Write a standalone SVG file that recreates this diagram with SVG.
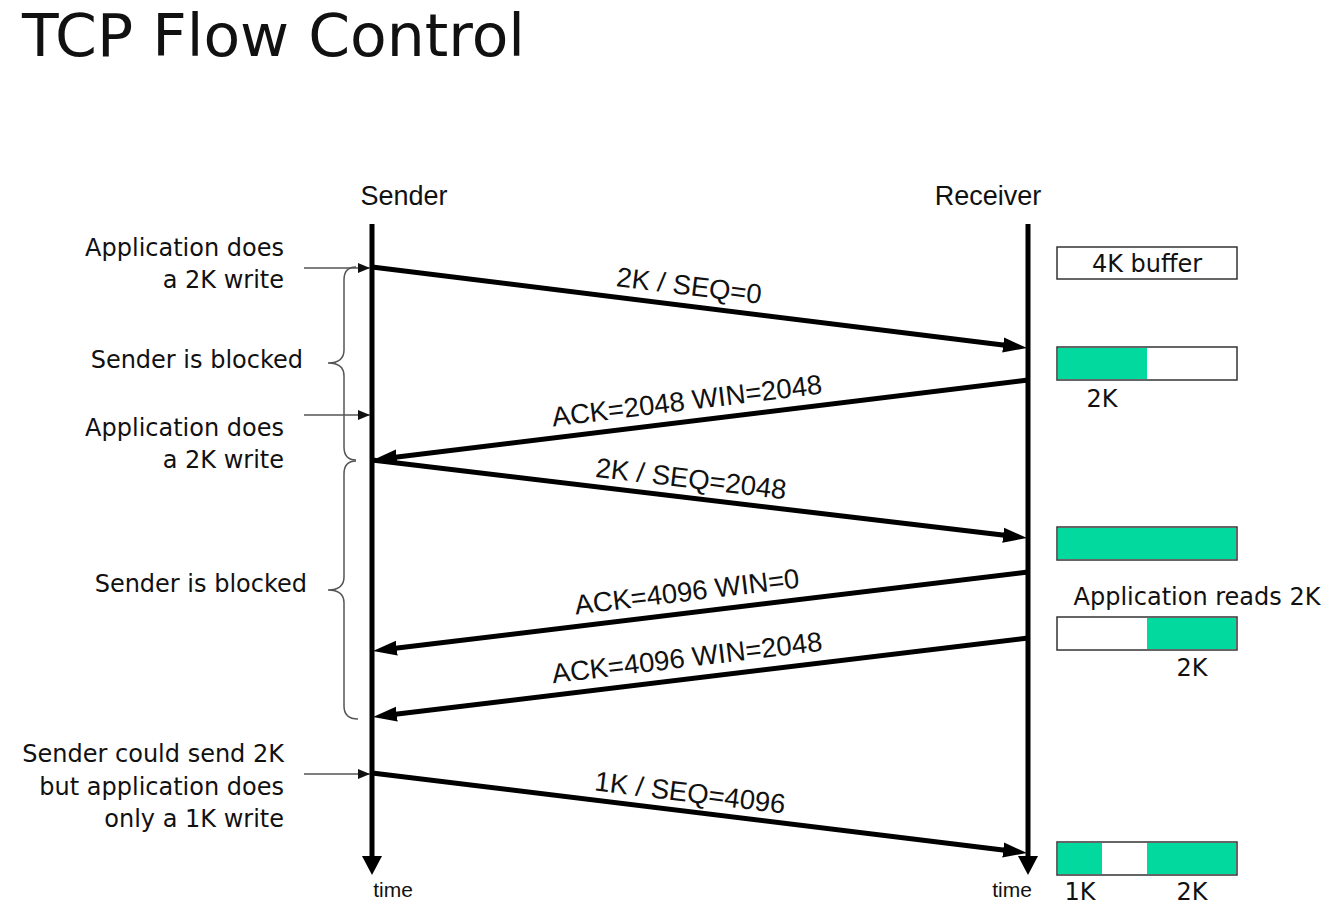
<svg xmlns="http://www.w3.org/2000/svg" width="1324" height="905" viewBox="0 0 1324 905">
<defs>
<style>
.title{font-family:"DejaVu Sans",sans-serif;font-size:59px;fill:#111}
.hdr{font-family:"Liberation Sans",Arial,sans-serif;font-size:27px;fill:#111}
.lbl{font-family:"Liberation Sans",Arial,sans-serif;font-size:27.5px;fill:#111;text-anchor:middle}
.note{font-family:"DejaVu Sans",sans-serif;font-size:24px;fill:#111;text-anchor:end}
.buf{font-family:"DejaVu Sans",sans-serif;font-size:24px;fill:#111;text-anchor:middle}
.time{font-family:"Liberation Sans",Arial,sans-serif;font-size:21px;fill:#111;text-anchor:middle}
.life{stroke:#000;stroke-width:5;fill:none}
.msg{stroke:#000;stroke-width:5;fill:none;marker-end:url(#ah)}
.ptr{stroke:#555;stroke-width:1.5;fill:none;marker-end:url(#sh)}
.brace{stroke:#555;stroke-width:1.5;fill:none}
.box{stroke:#333;stroke-width:1.5;fill:#fff}
.g{fill:#02d99e}
</style>
<marker id="ah" markerUnits="userSpaceOnUse" markerWidth="24" markerHeight="18" viewBox="0 0 24 18" refX="12" refY="9" orient="auto">
<path d="M0,1.5 L24,9 L0,16.5 z" fill="#000"/>
</marker>
<marker id="sh" markerUnits="userSpaceOnUse" markerWidth="12" markerHeight="10" viewBox="0 0 12 10" refX="12" refY="5" orient="auto">
<path d="M0,0 L12,5 L0,10 z" fill="#111"/>
</marker>
</defs>
<rect width="1324" height="905" fill="#fff"/>
<text class="title" x="22" y="56" textLength="503" lengthAdjust="spacingAndGlyphs">TCP Flow Control</text>

<g id="sender">
<text class="hdr" x="404" y="205" text-anchor="middle">Sender</text>
<line class="life" x1="372" y1="224" x2="372" y2="858"/>
<path d="M362,856 L382,856 L372,875 z" fill="#000"/>
<text class="time" x="393" y="897">time</text>
</g>
<g id="receiver">
<text class="hdr" x="988" y="205" text-anchor="middle">Receiver</text>
<line class="life" x1="1028" y1="224" x2="1028" y2="858"/>
<path d="M1018,856 L1038,856 L1028,875 z" fill="#000"/>
<text class="time" x="1012" y="897">time</text>
</g>

<g id="connectors">
<line class="msg" x1="372" y1="267" x2="1015.1" y2="346.5"/>
<line class="msg" x1="1028" y1="380" x2="384.9" y2="458.5"/>
<line class="msg" x1="372" y1="460" x2="1015.1" y2="536.6"/>
<line class="msg" x1="1028" y1="572" x2="384.9" y2="649.6"/>
<line class="msg" x1="1028" y1="638" x2="384.9" y2="715.6"/>
<line class="msg" x1="372" y1="773" x2="1015.1" y2="851.5"/>
<line class="ptr" x1="304" y1="268" x2="370" y2="268"/>
<line class="ptr" x1="304" y1="415" x2="370" y2="415"/>
<line class="ptr" x1="304" y1="774" x2="370" y2="774"/>
</g>

<g id="msg-labels">
<text class="lbl" transform="translate(688,295) rotate(7.05)">2K / SEQ=0</text>
<text class="lbl" transform="translate(688,410) rotate(-6.97)">ACK=2048 WIN=2048</text>
<text class="lbl" transform="translate(690,488) rotate(6.8)">2K / SEQ=2048</text>
<text class="lbl" transform="translate(688,601) rotate(-6.88)">ACK=4096 WIN=0</text>
<text class="lbl" transform="translate(688,667) rotate(-6.88)">ACK=4096 WIN=2048</text>
<text class="lbl" transform="translate(689,802) rotate(6.96)">1K / SEQ=4096</text>
</g>

<g id="notes">
<text class="note" x="284" y="256">Application does</text>
<text class="note" x="284" y="288">a 2K write</text>
<text class="note" x="303" y="368">Sender is blocked</text>
<text class="note" x="284" y="436">Application does</text>
<text class="note" x="284" y="468">a 2K write</text>
<text class="note" x="307" y="592">Sender is blocked</text>
<text class="note" x="284" y="762">Sender could send 2K</text>
<text class="note" x="284" y="795">but application does</text>
<text class="note" x="284" y="827">only a 1K write</text>
</g>

<g id="braces">
<path class="brace" d="M356,267 Q344,267 344,280 L344,350 Q344,363 328,363 Q344,363 344,376 L344,447 Q344,460 356,460"/>
<path class="brace" d="M356,461 Q344,461 344,474 L344,577 Q344,590 328,590 Q344,590 344,603 L344,706 Q344,719 358,719"/>
</g>

<g id="buffer1">
<rect class="box" x="1057" y="247" width="180" height="32"/>
<text class="buf" x="1147" y="272">4K buffer</text>
</g>
<g id="buffer2">
<rect class="box" x="1057" y="347" width="180" height="33"/>
<rect class="g" x="1058" y="348" width="89" height="31"/>
<text class="buf" x="1102" y="407">2K</text>
</g>
<g id="buffer3">
<rect class="box" x="1057" y="527" width="180" height="33"/>
<rect class="g" x="1058" y="528" width="178" height="31"/>
</g>
<g id="buffer4">
<text class="buf" x="1197" y="605">Application reads 2K</text>
<rect class="box" x="1057" y="617" width="180" height="33"/>
<rect class="g" x="1147" y="618" width="89" height="31"/>
<text class="buf" x="1192" y="676">2K</text>
</g>
<g id="buffer5">
<rect class="box" x="1057" y="842" width="180" height="33"/>
<rect class="g" x="1058" y="843" width="44" height="31"/>
<rect class="g" x="1147" y="843" width="89" height="31"/>
<text class="buf" x="1080" y="900">1K</text>
<text class="buf" x="1192" y="900">2K</text>
</g>
</svg>
